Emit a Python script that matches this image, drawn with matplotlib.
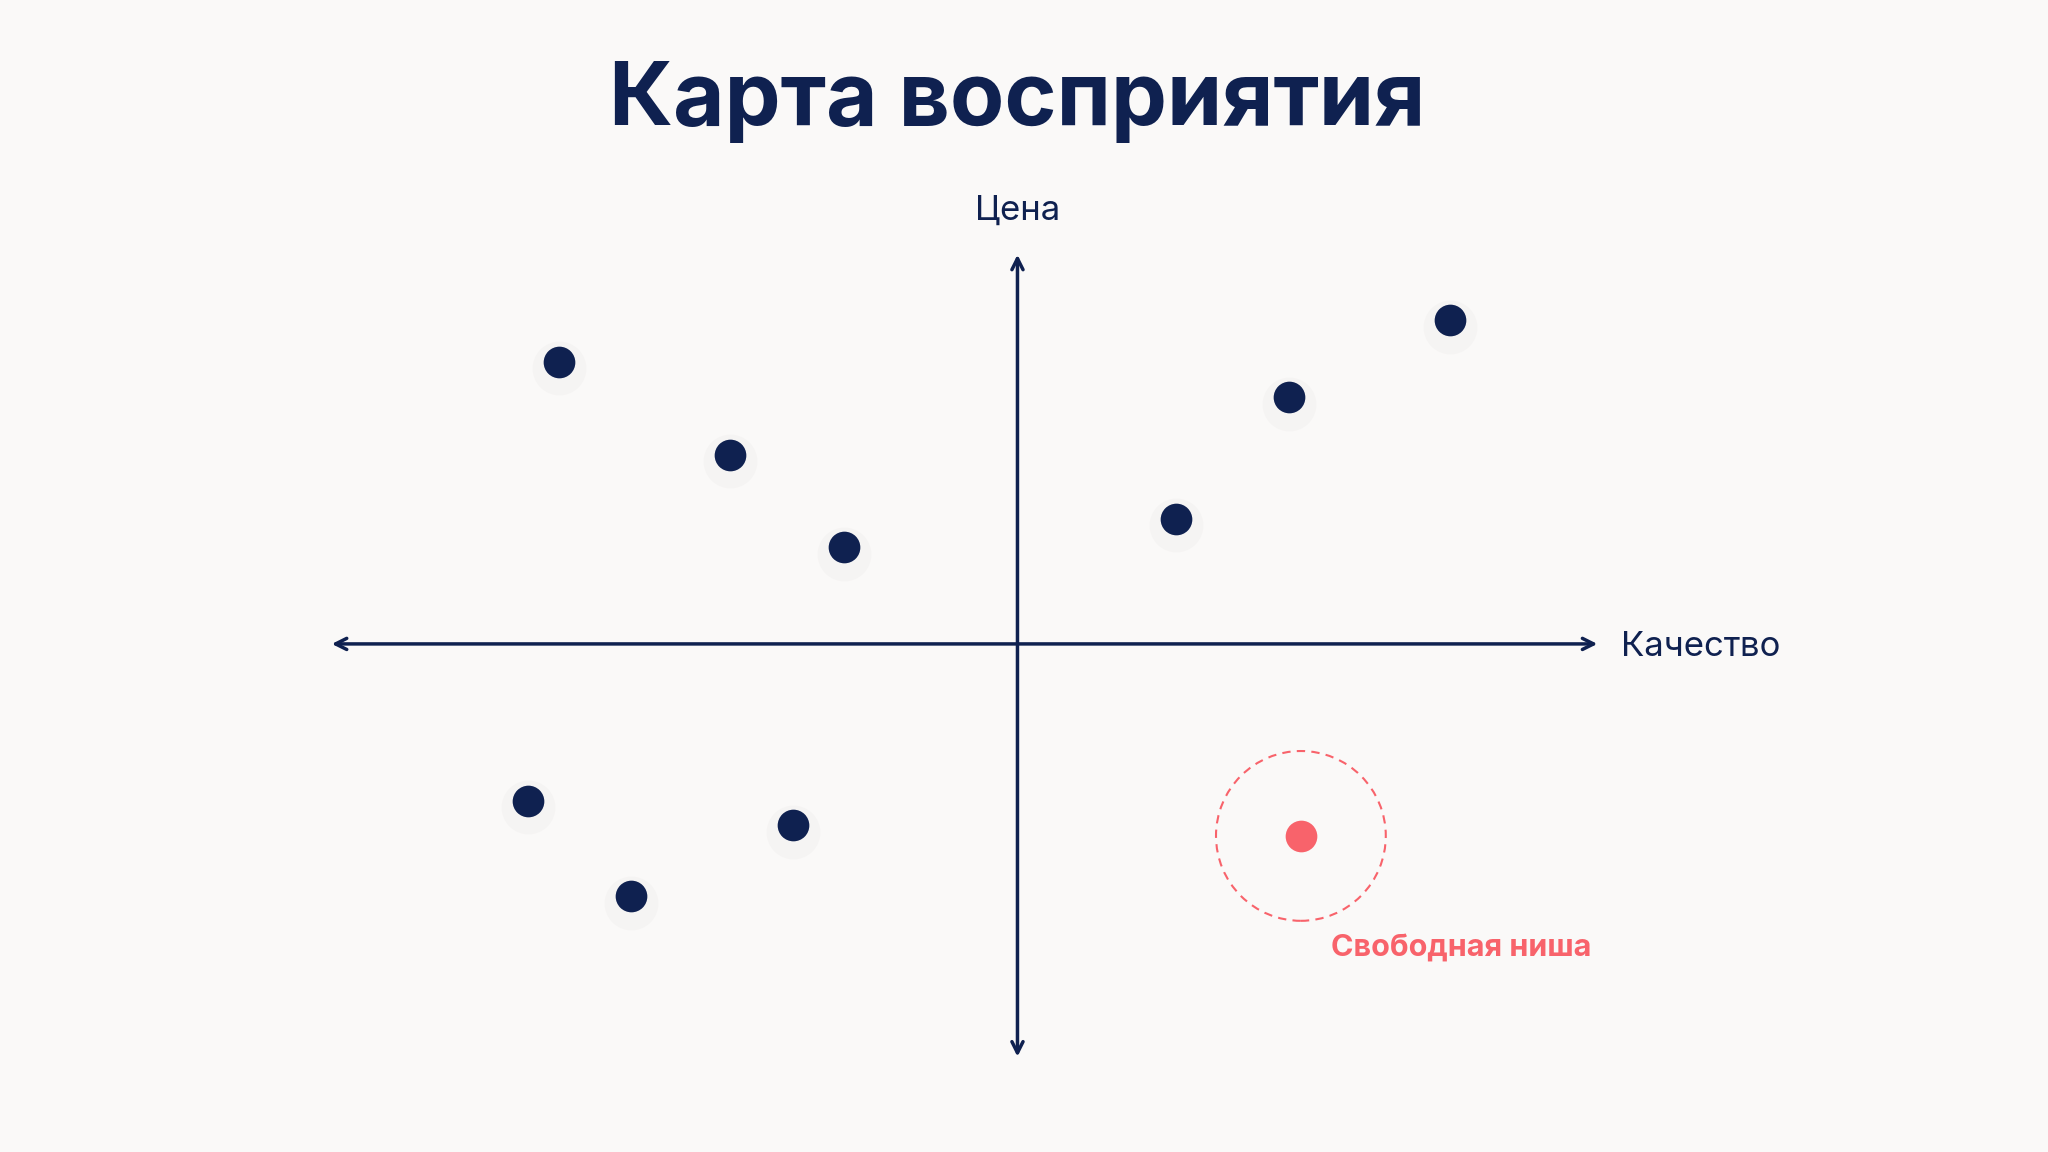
import matplotlib
matplotlib.use("Agg")
import matplotlib.pyplot as plt
from matplotlib.patches import Circle

title = "Карта восприятия"
x_label = "Качество"
y_label = "Цена"
niche_label = "Свободная ниша"

# brand positions (quality, price)
brand_x = [-3.51, -2.20, -1.33, 1.21, 2.08, 3.31, -3.75, -2.96, -1.72]
brand_y = [2.16, 1.45, 0.74, 0.96, 1.89, 2.48, -1.20, -1.93, -1.39]
niche_x = [2.17]
niche_y = [-1.47]

navy = "#0f2150"
pink = "#f8636b"
bg = "#faf9f8"

fig = plt.figure(figsize=(20.48, 11.52), dpi=100, facecolor=bg)
ax = fig.add_axes([0, 0, 1, 1])
ax.set_facecolor(bg)
ax.set_xlim(-7.79, 7.89)
ax.set_ylim(-3.89, 4.93)
ax.axis("off")

fam = ["Inter", "DejaVu Sans"]

ax.annotate("", xy=(-5.25, 0), xytext=(4.44, 0),
            arrowprops=dict(arrowstyle="<->,head_length=0.8,head_width=0.4", color=navy, lw=2.5, shrinkA=0, shrinkB=0))
ax.annotate("", xy=(0, 2.98), xytext=(0, -3.16),
            arrowprops=dict(arrowstyle="<->,head_length=0.8,head_width=0.4", color=navy, lw=2.5, shrinkA=0, shrinkB=0))

ax.text(4.62, -0.02, x_label, fontsize=25, color=navy, va="center", ha="left", family=fam)
ax.text(0, 3.32, y_label, fontsize=25, color=navy, va="center", ha="center", family=fam)
ax.text(0.0, 4.15, title, fontsize=64, color=navy, weight="bold", va="center", ha="center", family=fam)

# soft shadows
ax.scatter(brand_x, [y - 0.05 for y in brand_y], s=1500, color="#efedec", alpha=0.4, lw=0, zorder=2)
ax.scatter(brand_x, brand_y, s=520, color=navy, lw=0, zorder=3)
ax.scatter(niche_x, niche_y, s=520, color=pink, lw=0, zorder=3)
ax.add_patch(Circle((niche_x[0], niche_y[0]), 0.65, fill=False, ec=pink, lw=1.5, ls=(0, (4, 3)), zorder=3))
ax.text(2.40, -2.33, niche_label, fontsize=22, color=pink, weight="bold", va="center", ha="left", family=fam)

fig.savefig("out.png", dpi=100, facecolor=bg)
